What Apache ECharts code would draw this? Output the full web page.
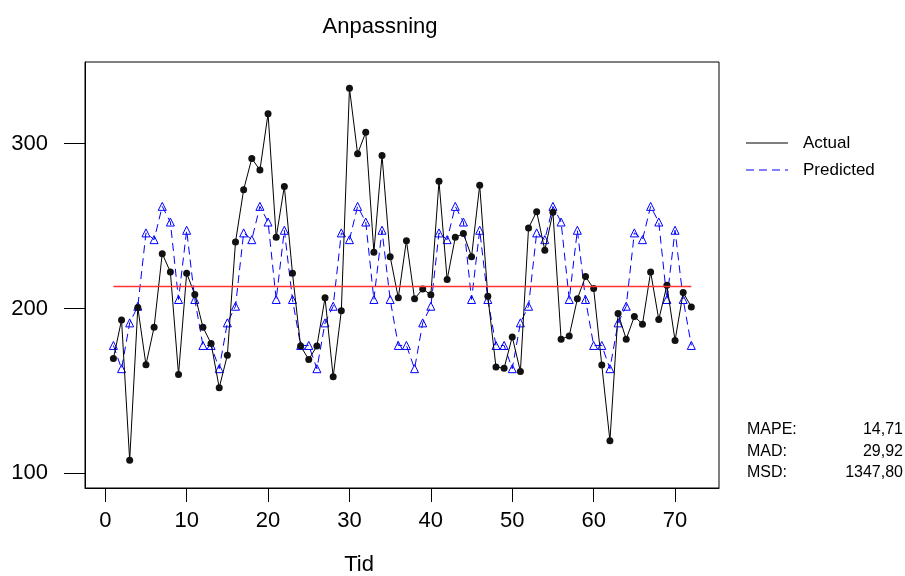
<!DOCTYPE html>
<html>
<head>
<meta charset="utf-8">
<title>Anpassning</title>
<script src="https://cdn.jsdelivr.net/npm/echarts@6/dist/echarts.min.js"></script>
<style>
html, body { margin: 0; padding: 0; background: #fff; }
#main { width: 905px; height: 576px; }
</style>
</head>
<body>
<div id="main"></div>
<script>
// Anpassning - faktiska och predikterade varden per tidpunkt
var actual = [169.7, 193.1, 107.9, 200.6, 165.9, 188.7, 233.3, 222.2, 160.0, 221.4, 208.5, 188.7,
    178.8, 152.0, 171.7, 240.4, 272.1, 291.1, 284.0, 318.2, 243.2, 274.1, 221.4, 177.2,
    169.1, 177.2, 206.5, 158.6, 198.6, 333.7, 293.9, 306.9, 234.1, 292.9, 231.5, 206.5,
    241.2, 205.9, 211.9, 208.3, 277.2, 217.6, 243.2, 245.5, 231.5, 274.8, 207.5, 164.5,
    163.8, 182.8, 161.8, 248.9, 258.8, 235.4, 258.4, 181.4, 183.4, 205.9, 219.4, 212.1,
    165.7, 119.8, 197.0, 181.4, 195.2, 190.5, 222.2, 193.3, 214.1, 180.6, 209.7, 201.0];

var predicted = [177.6, 163.5, 191.3, 201.4, 245.9, 241.8, 262.0, 252.5, 205.5, 247.5, 205.5, 177.6,
    177.6, 163.5, 191.3, 201.4, 245.9, 241.8, 262.0, 252.5, 205.5, 247.5, 205.5, 177.6,
    177.6, 163.5, 191.3, 201.4, 245.9, 241.8, 262.0, 252.5, 205.5, 247.5, 205.5, 177.6,
    177.6, 163.5, 191.3, 201.4, 245.9, 241.8, 262.0, 252.5, 205.5, 247.5, 205.5, 177.6,
    177.6, 163.5, 191.3, 201.4, 245.9, 241.8, 262.0, 252.5, 205.5, 247.5, 205.5, 177.6,
    177.6, 163.5, 191.3, 201.4, 245.9, 241.8, 262.0, 252.5, 205.5, 247.5, 205.5, 177.6];

var fitLevel = 213.3;

var xTicks = [0, 10, 20, 30, 40, 50, 60, 70];
var yTicks = [100, 200, 300];

var statNames = ['MAPE:', 'MAD:', 'MSD:'];
var statValues = ['14,71', '29,92', '1347,80'];

var fontFam = '"Liberation Sans", Arial, sans-serif';

function pairs(vals) {
    var out = [];
    for (var i = 0; i < vals.length; i++) {
        out.push([i + 1, vals[i]]);
    }
    return out;
}

var chart = echarts.init(document.getElementById('main'), null, { renderer: 'canvas' });

// legenden och statistiken ritas som grafik
var graphics = [
    { type: 'line', shape: { x1: 746, y1: 143, x2: 788, y2: 143 }, style: { stroke: '#000', lineWidth: 1 } },
    { type: 'line', shape: { x1: 746, y1: 170, x2: 788, y2: 170 }, style: { stroke: '#0000ff', lineWidth: 1, lineDash: [8, 5] } },
    { type: 'text', x: 803, y: 143, style: { text: 'Actual', font: '17px ' + fontFam, fill: '#000', verticalAlign: 'middle' } },
    { type: 'text', x: 803, y: 170, style: { text: 'Predicted', font: '17px ' + fontFam, fill: '#000', verticalAlign: 'middle' } },
    { type: 'text', x: 359, y: 565, style: { text: 'Tid', font: '22px ' + fontFam, fill: '#000', align: 'center', verticalAlign: 'middle' } }
];
for (var i = 0; i < statNames.length; i++) {
    var yy = 430 + i * 21.5;
    graphics.push({ type: 'text', x: 747, y: yy, style: { text: statNames[i], font: '16px ' + fontFam, fill: '#000', verticalAlign: 'middle' } });
    graphics.push({ type: 'text', x: 903, y: yy, style: { text: statValues[i], font: '16px ' + fontFam, fill: '#000', align: 'right', verticalAlign: 'middle' } });
}

var option = {
    backgroundColor: '#fff',
    animation: false,
    title: {
        text: 'Anpassning',
        left: 375,
        top: 11,
        textAlign: 'center',
        textStyle: { fontFamily: fontFam, fontSize: 22, fontWeight: 'normal', color: '#000' }
    },
    grid: {
        left: 85,
        right: 186,
        top: 62,
        bottom: 88,
        show: true,
        borderColor: '#000',
        borderWidth: 1,
        backgroundColor: '#fff'
    },
    xAxis: {
        type: 'value',
        min: -2.49,
        max: 75.4,
        axisLine: { show: true, onZero: false, lineStyle: { color: '#000', width: 1 } },
        axisTick: { show: true, length: 14, inside: false, customValues: xTicks, lineStyle: { color: '#000' } },
        axisLabel: { customValues: xTicks, margin: 22, fontFamily: fontFam, fontSize: 22, color: '#000' },
        splitLine: { show: false }
    },
    yAxis: {
        type: 'value',
        min: 91.1,
        max: 349.6,
        axisLine: { show: true, onZero: false, lineStyle: { color: '#000', width: 1 } },
        axisTick: { show: true, length: 21, inside: false, customValues: yTicks, lineStyle: { color: '#000' } },
        axisLabel: { customValues: yTicks, margin: 37, fontFamily: fontFam, fontSize: 22, color: '#000' },
        splitLine: { show: false }
    },
    graphic: graphics,
    series: [{
        name: 'Predicted',
        type: 'line',
        data: pairs(predicted),
        symbol: 'triangle',
        symbolSize: 8,
        z: 2,
        lineStyle: { color: '#0000ff', width: 1, type: [8, 5] },
        itemStyle: { color: 'rgba(0,0,0,0)', borderColor: '#0000ff', borderWidth: 1 }
    }, {
        name: 'Actual',
        type: 'line',
        data: pairs(actual),
        symbol: 'circle',
        symbolSize: 7,
        z: 3,
        lineStyle: { color: '#000', width: 1 },
        itemStyle: { color: '#111', borderColor: '#000', borderWidth: 0 }
    }, {
        name: 'Fit',
        type: 'line',
        data: [[1, fitLevel], [actual.length, fitLevel]],
        symbol: 'none',
        z: 4,
        lineStyle: { color: '#ff3333', width: 1.5 },
        silent: true
    }]
};

chart.setOption(option);
</script>
</body>
</html>
